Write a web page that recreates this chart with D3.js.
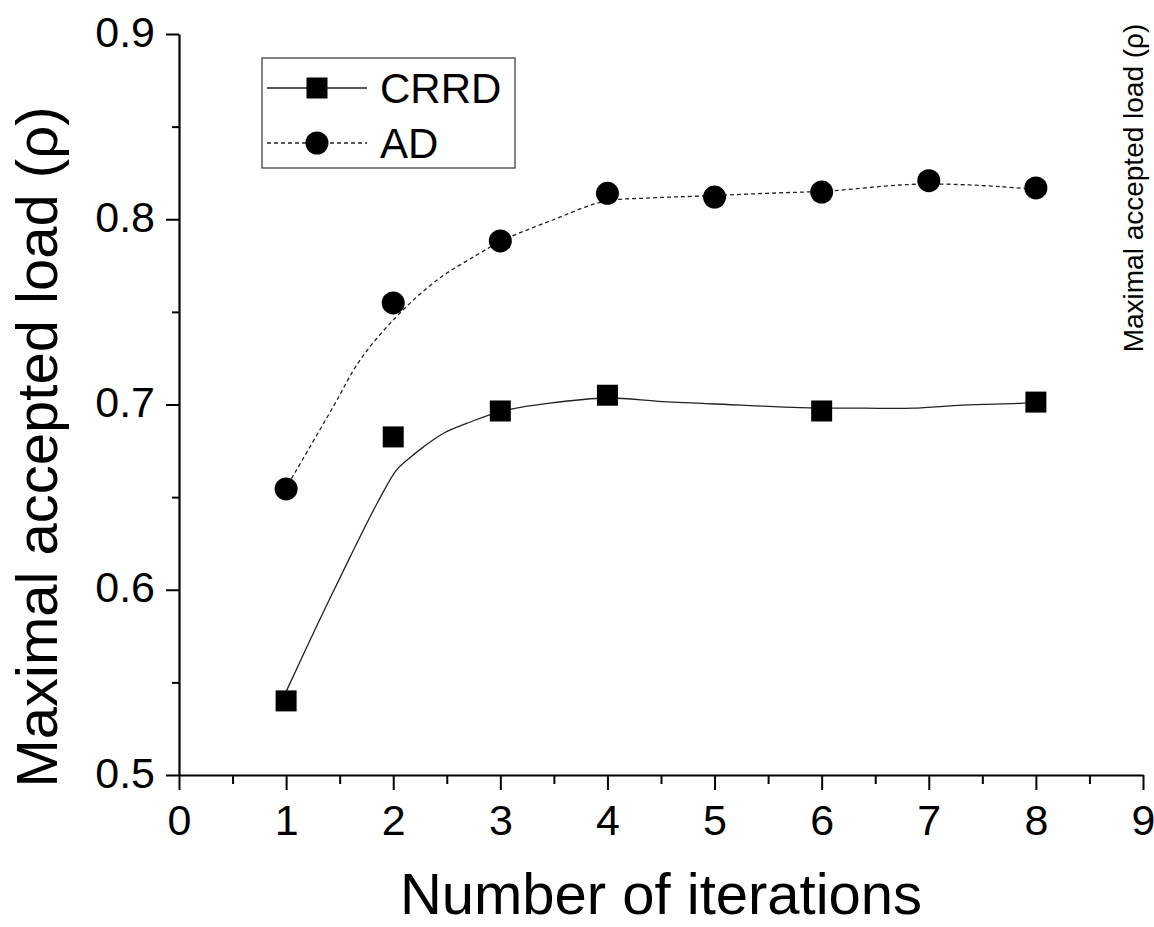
<!DOCTYPE html>
<html>
<head>
<meta charset="utf-8">
<script src="https://cdn.jsdelivr.net/npm/d3@7"></script>
<style>
  body { margin: 0; background: #fff; }
  text { font-family: "Liberation Sans", Arial, sans-serif; fill: #000; }
</style>
</head>
<body>
<svg id="chart" width="1154" height="927"></svg>
<script>
// measured points
const iterCRRD = [1, 2, 3, 4, 6, 8];
const loadCRRD = [0.540, 0.6825, 0.6965, 0.705, 0.6965, 0.7013];
const iterAD = [1, 2, 3, 4, 5, 6, 7, 8];
const loadAD = [0.6544, 0.7548, 0.7883, 0.814, 0.812, 0.8147, 0.8208, 0.8169];

// smoothed fit curves
const fitXCRRD = [1, 1.29, 1.6, 1.85, 2.03, 2.13, 2.28, 2.47, 2.69, 3.0, 3.46, 4.0, 4.52, 5.25, 5.8, 6.4, 6.85, 7.32, 7.88, 8];
const fitYCRRD = [0.545, 0.581, 0.618, 0.6467, 0.6646, 0.670, 0.677, 0.6845, 0.6899, 0.6962, 0.7007, 0.7035, 0.7015, 0.6997, 0.6983, 0.698, 0.698, 0.6997, 0.7007, 0.7013];
const fitXAD = [1.05, 1.44, 1.69, 2.03, 2.41, 2.78, 3.03, 3.49, 3.96, 4.4, 4.86, 5.49, 6.1, 6.73, 7.1, 7.67, 8];
const fitYAD = [0.660, 0.6988, 0.724, 0.7474, 0.7672, 0.7807, 0.7888, 0.7996, 0.8095, 0.8115, 0.8125, 0.814, 0.8154, 0.8185, 0.819, 0.8176, 0.816];

const yTicks = [0.5, 0.6, 0.7, 0.8, 0.9];
const yMinor = [0.55, 0.65, 0.75, 0.85];
const xTicks = [0, 1, 2, 3, 4, 5, 6, 7, 8, 9];
const xMinor = [0.5, 1.5, 2.5, 3.5, 4.5, 5.5, 6.5, 7.5, 8.5];

const legendNames = ["CRRD", "AD"];

const margin = { left: 179, top: 34 };
const width = 964, height = 741;

const svg = d3.select("#chart");
const g = svg.append("g").attr("transform", `translate(${margin.left},${margin.top})`);

const x = d3.scaleLinear().domain([0, 9]).range([0, width]);
const y = d3.scaleLinear().domain([0.5, 0.9]).range([height, 0]);

// minor ticks first
g.append("g")
    .attr("transform", `translate(0,${height})`)
    .call(d3.axisBottom(x).tickValues(xMinor).tickSize(9).tickSizeOuter(0).tickFormat(""))
    .call(a => a.select(".domain").remove())
    .selectAll("line").attr("stroke-width", 2);
g.append("g")
    .call(d3.axisLeft(y).tickValues(yMinor).tickSize(7).tickSizeOuter(0).tickFormat(""))
    .call(a => a.select(".domain").remove())
    .selectAll("line").attr("stroke-width", 2);

// major axes
const xAxis = g.append("g")
    .attr("transform", `translate(0,${height})`)
    .call(d3.axisBottom(x).tickValues(xTicks).tickSize(15).tickSizeOuter(0).tickFormat(d3.format("d")));
xAxis.select(".domain").attr("stroke-width", 2.2);
xAxis.selectAll("line").attr("stroke-width", 2);
xAxis.selectAll("text").attr("y", 29).attr("font-size", 43);

const yAxis = g.append("g")
    .call(d3.axisLeft(y).tickValues(yTicks).tickSize(13).tickSizeOuter(0).tickFormat(d3.format(".1f")));
yAxis.select(".domain").attr("stroke-width", 2.2);
yAxis.selectAll("line").attr("stroke-width", 2);
yAxis.selectAll("text").attr("x", -24).attr("dy", "0.28em").attr("font-size", 43);
svg.selectAll(".tick text").style("font-family", "'Liberation Sans', Arial, sans-serif");

// fit curves
const line = d3.line().x(d => x(d[0])).y(d => y(d[1])).curve(d3.curveCatmullRom.alpha(0.5));
g.append("path")
    .datum(d3.zip(fitXCRRD, fitYCRRD))
    .attr("d", line)
    .attr("fill", "none").attr("stroke", "#222").attr("stroke-width", 1.3);
g.append("path")
    .datum(d3.zip(fitXAD, fitYAD))
    .attr("d", line)
    .attr("fill", "none").attr("stroke", "#222").attr("stroke-width", 1.3)
    .attr("stroke-dasharray", "4,3");

// markers
const sq = 21;
g.selectAll(".crrd").data(d3.zip(iterCRRD, loadCRRD)).join("rect")
    .attr("class", "crrd")
    .attr("x", d => x(d[0]) - sq / 2).attr("y", d => y(d[1]) - sq / 2)
    .attr("width", sq).attr("height", sq).attr("fill", "#000");
g.selectAll(".ad").data(d3.zip(iterAD, loadAD)).join("circle")
    .attr("class", "ad")
    .attr("cx", d => x(d[0])).attr("cy", d => y(d[1]))
    .attr("r", 11.5).attr("fill", "#000");

// axis titles
svg.append("text")
    .attr("x", margin.left + width / 2).attr("y", 914)
    .attr("text-anchor", "middle").attr("font-size", 58)
    .text("Number of iterations");
svg.append("text")
    .attr("transform", "translate(57,447) rotate(-90)")
    .attr("text-anchor", "middle").attr("font-size", 58)
    .text("Maximal accepted load (ρ)");
svg.append("text")
    .attr("transform", "translate(1143,188) rotate(-90)")
    .attr("text-anchor", "middle").attr("font-size", 28)
    .text("Maximal accepted load (ρ)");

// legend
const leg = svg.append("g").attr("transform", "translate(262,58)");
leg.append("rect").attr("width", 253).attr("height", 110)
    .attr("fill", "none").attr("stroke", "#333").attr("stroke-width", 1.2);
legendNames.forEach((name, i) => {
    const ly = 30 + i * 55;
    leg.append("line").attr("x1", 5).attr("x2", 105).attr("y1", ly).attr("y2", ly)
        .attr("stroke", "#222").attr("stroke-width", 1.3)
        .attr("stroke-dasharray", i === 1 ? "4,3" : null);
    if (i === 0) {
        leg.append("rect").attr("x", 55 - sq / 2).attr("y", ly - sq / 2)
            .attr("width", sq).attr("height", sq).attr("fill", "#000");
    } else {
        leg.append("circle").attr("cx", 55).attr("cy", ly).attr("r", 11.5).attr("fill", "#000");
    }
    leg.append("text").attr("x", 118).attr("y", ly + 15)
        .attr("font-size", 42).text(name);
});
</script>
</body>
</html>
